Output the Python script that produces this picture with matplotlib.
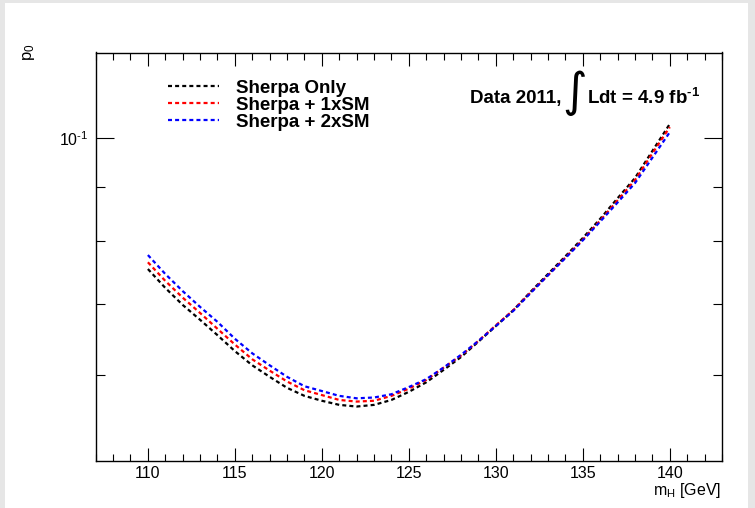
import matplotlib
matplotlib.use("Agg")
import matplotlib.pyplot as plt
from matplotlib.ticker import FixedLocator, FixedFormatter, MultipleLocator, NullFormatter
from matplotlib.patches import Rectangle

# ---------------- data ----------------
mass = list(range(110, 141))
sherpa_only = [0.0754, 0.0724, 0.0698, 0.0676, 0.0654, 0.0632, 0.0613, 0.0598, 0.0584, 0.0574,
               0.0568, 0.0563, 0.0561, 0.0563, 0.0569, 0.0579, 0.0591, 0.0607, 0.0624, 0.0645,
               0.0667, 0.0690, 0.0718, 0.0746, 0.0775, 0.0806, 0.0840, 0.0878, 0.0917, 0.0972,
               0.1030]
sherpa_1xsm = [0.0765, 0.0735, 0.0709, 0.0686, 0.0663, 0.0641, 0.0621, 0.0606, 0.0592, 0.0581,
               0.0575, 0.0569, 0.0567, 0.0568, 0.0574, 0.0583, 0.0594, 0.0610, 0.0626, 0.0646,
               0.0668, 0.0690, 0.0717, 0.0744, 0.0773, 0.0803, 0.0837, 0.0874, 0.0913, 0.0967,
               0.1023]
sherpa_2xsm = [0.0777, 0.0746, 0.0719, 0.0695, 0.0673, 0.0649, 0.0629, 0.0613, 0.0598, 0.0586,
               0.0580, 0.0574, 0.0571, 0.0572, 0.0576, 0.0585, 0.0595, 0.0610, 0.0627, 0.0646,
               0.0667, 0.0689, 0.0716, 0.0744, 0.0772, 0.0802, 0.0835, 0.0870, 0.0907, 0.0958,
               0.1012]
series_labels = ["Sherpa Only", "Sherpa + 1xSM", "Sherpa + 2xSM"]
series_colors = ["black", "red", "blue"]
x_major_ticks = [110, 115, 120, 125, 130, 135, 140]
y_major_ticks = [0.1]
y_major_labels = ["$10^{\u2010 1}$"]
y_minor_ticks = [0.06, 0.07, 0.08, 0.09]

# ---------------- style ----------------
plt.rcParams["font.family"] = ["Liberation Sans", "DejaVu Sans"]
plt.rcParams["mathtext.fontset"] = "custom"
plt.rcParams["mathtext.rm"] = "Liberation Sans"
plt.rcParams["mathtext.it"] = "Liberation Sans:italic"
plt.rcParams["mathtext.bf"] = "Liberation Sans:bold"

W, H = 755, 508
fig = plt.figure(figsize=(W / 100, H / 100), dpi=100)
fig.patch.set_facecolor("#e6e6e6")
fig.add_artist(Rectangle((5 / W, 0), (748 - 5) / W, 1 - 3 / H, transform=fig.transFigure,
                         facecolor="white", edgecolor="none", zorder=-10))

left, right, top, bottom = 95.7, 722.0, 52.5, 461.0
ax = fig.add_axes([left / W, 1 - bottom / H, (right - left) / W, (bottom - top) / H])

handles = []
for vals, col, lab in zip([sherpa_only, sherpa_1xsm, sherpa_2xsm], series_colors, series_labels):
    h, = ax.plot(mass, vals, color=col, lw=1.6, linestyle=(0, (1.8, 1.4)), label=lab)
    handles.append(h)

ax.set_yscale("log")
ax.set_xlim(107, 143)
ax.set_ylim(0.0499, 0.1201)

ax.xaxis.set_major_locator(FixedLocator(x_major_ticks))
ax.xaxis.set_minor_locator(MultipleLocator(1))
ax.yaxis.set_major_locator(FixedLocator(y_major_ticks))
ax.yaxis.set_major_formatter(FixedFormatter(y_major_labels))
ax.yaxis.set_minor_locator(FixedLocator(y_minor_ticks))
ax.yaxis.set_minor_formatter(NullFormatter())

ax.tick_params(which="both", direction="in", top=True, right=True, width=0.8, labelsize=11.5)
ax.tick_params(axis="x", which="major", length=9.4, pad=3.5)
ax.tick_params(axis="x", which="minor", length=4.8)
ax.tick_params(axis="y", which="major", length=13, pad=5)
ax.tick_params(axis="y", which="minor", length=6.5)
for s in ax.spines.values():
    s.set_linewidth(1.0)

# axis titles (ROOT style, aligned at axis ends)
fig.text(721 / W, 1 - 491 / H, r"m$_{\mathrm{H}}$ [GeV]", ha="right", va="center", fontsize=11.5)
fig.text(29 / W, 1 - 44 / H, r"p$_{0}$", rotation=90, ha="center", va="top", fontsize=12)

# legend
ax.legend(handles=handles, labels=series_labels, loc="upper left", bbox_to_anchor=(0.115, 0.934),
          frameon=False, prop={"weight": "bold", "size": 13.5}, handlelength=2.75,
          handletextpad=0.9, labelspacing=0.0, borderpad=0.0, borderaxespad=0.0)

# luminosity label
def ax_frac(px, py):
    return (px - left) / (right - left), (bottom - py) / (bottom - top)

ax.text(*ax_frac(470, 103.5), "Data 2011,", transform=ax.transAxes, fontsize=13.5,
        fontweight="bold", ha="left", va="baseline")
ax.text(*ax_frac(575, 93.5), "\u222b", transform=ax.transAxes, fontsize=34,
        family="DejaVu Sans", ha="center", va="center")
ax.text(*ax_frac(587, 103.5), "Ldt = 4.9 fb$^{\\mathbf{\u20101}}$", transform=ax.transAxes,
        fontsize=13.5, fontweight="bold", ha="left", va="baseline")

fig.savefig("out.png", dpi=100, facecolor=fig.get_facecolor())
